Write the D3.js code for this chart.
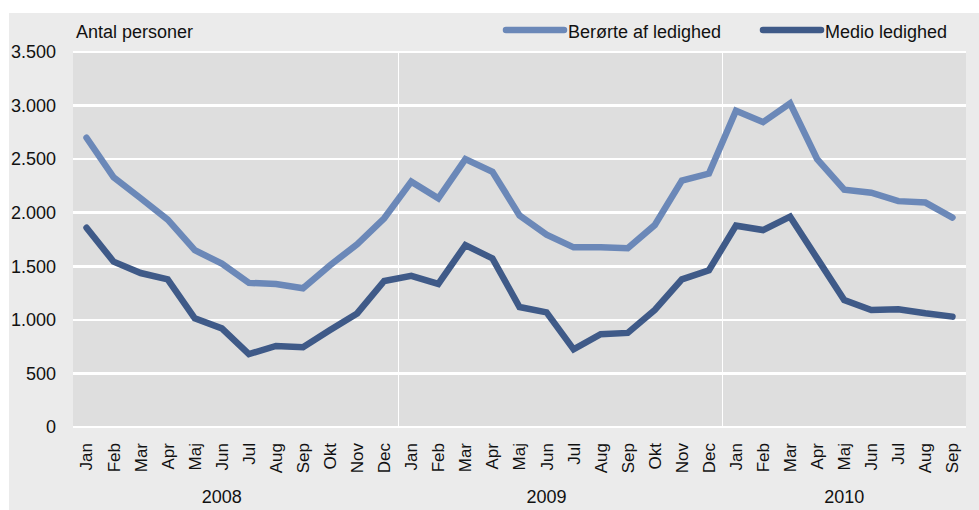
<!DOCTYPE html>
<head>
  <meta charset="utf-8">
  <style>
    body {margin: 0; background: #fff;}
    svg text {font-family: "Liberation Sans", Arial, sans-serif; fill: #111;}
    .grid line {stroke: #fff; stroke-width: 2.5; shape-rendering: crispEdges;}
    .sep line {stroke: #fff; stroke-width: 1; shape-rendering: crispEdges;}
    .line {fill: none; stroke-width: 6.5; stroke-linejoin: miter; stroke-linecap: round;}
  </style>
  <title>Antal personer</title>
</head>
<body>
  <svg width="979" height="510"></svg>
  <script src="https://cdn.jsdelivr.net/npm/d3@7/dist/d3.min.js"></script>
  <script>
    // Data
    var months = ["Jan","Feb","Mar","Apr","Maj","Jun","Jul","Aug","Sep","Okt","Nov","Dec",
                  "Jan","Feb","Mar","Apr","Maj","Jun","Jul","Aug","Sep","Okt","Nov","Dec",
                  "Jan","Feb","Mar","Apr","Maj","Jun","Jul","Aug","Sep"];
    var years = ["2008", "2009", "2010"];
    var yearCounts = [12, 12, 9];
    var beroerte = [2700,2330,2135,1935,1650,1525,1345,1335,1295,1510,1705,1948,
                    2290,2135,2500,2383,1975,1795,1677,1677,1668,1885,2300,2365,
                    2952,2845,3020,2500,2215,2187,2108,2095,1955];
    var medio = [1860,1543,1437,1378,1014,920,681,756,744,905,1060,1363,
                 1410,1335,1698,1574,1120,1070,725,866,878,1092,1378,1463,
                 1879,1838,1963,1574,1185,1092,1098,1061,1030];
    var yTicks = [0,500,1000,1500,2000,2500,3000,3500];
    var seriesNames = ["Berørte af ledighed", "Medio ledighed"];
    var colors = ["#6b88b8", "#3f5a88"];

    var svg = d3.select("svg"),
        margin = {top: 52, left: 73, right: 13, bottom: 83},
        width = +svg.attr("width") - margin.left - margin.right,
        height = +svg.attr("height") - margin.top - margin.bottom;

    var fmt = d3.formatLocale({decimal: ",", thousands: ".", grouping: [3], currency: ["", " kr."]}).format(",");

    // outer panel
    svg.append("rect")
        .attr("x", 9).attr("y", 13)
        .attr("width", 970).attr("height", 497)
        .attr("fill", "#ebebeb");

    var graph = svg.append("g").attr("transform", "translate(" + margin.left + "," + margin.top + ")");

    var idx = d3.range(months.length);
    var x = d3.scaleBand().domain(idx).range([0, width]);
    var y = d3.scaleLinear().domain([0, 3500]).range([height, 0]);

    graph.append("rect")
        .attr("width", width).attr("height", height)
        .attr("fill", "#dedede");

    // year separators
    var starts = [0];
    yearCounts.forEach(function(c, i) { starts.push(starts[i] + c); });
    graph.append("g").attr("class", "sep")
      .selectAll("line").data(starts.slice(1, -1))
      .enter().append("line")
        .attr("x1", function(d) { return Math.round(x(d)) + 0.5; })
        .attr("x2", function(d) { return Math.round(x(d)) + 0.5; })
        .attr("y1", 0).attr("y2", height);

    // horizontal gridlines
    graph.append("g").attr("class", "grid")
      .selectAll("line").data(yTicks)
      .enter().append("line")
        .attr("x1", 0).attr("x2", width)
        .attr("y1", function(d) { return y(d); })
        .attr("y2", function(d) { return y(d); });

    // y labels
    graph.append("g")
      .selectAll("text").data(yTicks)
      .enter().append("text")
        .attr("x", -17)
        .attr("y", function(d) { return y(d); })
        .attr("dy", "0.35em")
        .attr("text-anchor", "end")
        .style("font-size", "18px")
        .text(function(d) { return fmt(d); });

    // month labels
    graph.append("g")
      .selectAll("text").data(idx)
      .enter().append("text")
        .attr("transform", function(d) {
          return "translate(" + (x(d) + x.bandwidth() / 2) + "," + (height + 16) + ") rotate(-90)";
        })
        .attr("dy", "0.35em")
        .attr("text-anchor", "end")
        .style("font-size", "17px")
        .text(function(d) { return months[d]; });

    // year labels
    graph.append("g")
      .selectAll("text").data(years)
      .enter().append("text")
        .attr("x", function(d, i) {
          var k = starts[i] + Math.floor((yearCounts[i] - 1) / 2);
          return x(k) + x.bandwidth() / 2;
        })
        .attr("y", height + 76)
        .attr("text-anchor", "middle")
        .style("font-size", "18px")
        .text(function(d) { return d; });

    // lines
    var line = d3.line()
        .x(function(d, i) { return x(i) + x.bandwidth() / 2; })
        .y(function(d) { return y(d); });

    graph.selectAll(".line")
        .data([beroerte, medio])
      .enter().append("path")
        .attr("class", "line")
        .attr("d", function(d) { return line(d); })
        .style("stroke", function(d, i) { return colors[i]; });

    // axis title
    svg.append("text")
        .attr("x", 76).attr("y", 38)
        .style("font-size", "18px")
        .text("Antal personer");

    // legend
    var legendX = [506, 763];
    var legend = svg.selectAll(".legend")
        .data(seriesNames)
      .enter().append("g")
        .attr("class", "legend")
        .attr("transform", function(d, i) { return "translate(" + legendX[i] + ",30)"; });

    legend.append("line")
        .attr("x1", 0).attr("x2", 58)
        .attr("stroke-width", 6.5)
        .attr("stroke-linecap", "round")
        .attr("stroke", function(d, i) { return colors[i]; });

    legend.append("text")
        .attr("x", 62).attr("y", 8)
        .style("font-size", "18px")
        .text(function(d) { return d; });
  </script>
</body>
